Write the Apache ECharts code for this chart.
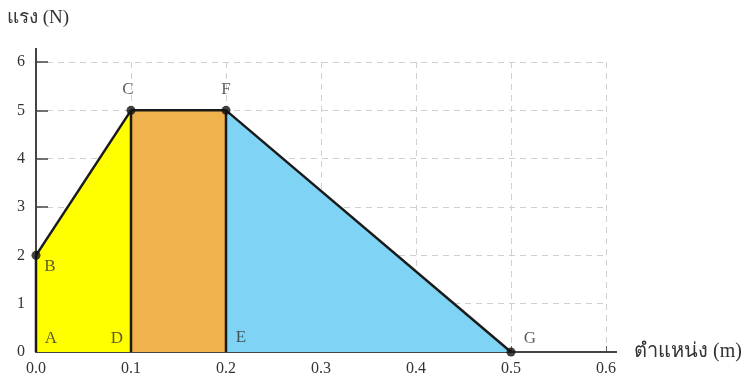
<!DOCTYPE html>
<html>
<head>
<meta charset="utf-8">
<script src="https://cdn.jsdelivr.net/npm/echarts@6/dist/echarts.min.js"></script>
<style>
  html, body { margin: 0; padding: 0; background: #fff; }
  #chart { width: 754px; height: 385px; }
</style>
</head>
<body>
<div id="chart"></div>
<script>
// จุดบนกราฟ (ตำแหน่ง m, แรง N)
const pointNames = ['B', 'C', 'F', 'G'];
const pointX = [0.0, 0.1, 0.2, 0.5];
const pointY = [2, 5, 5, 0];

// ช่วงพื้นที่ใต้กราฟ: เหลือง, ส้ม, ฟ้า
const areaX = [[0.0, 0.1], [0.1, 0.2], [0.2, 0.5]];
const areaY = [[2, 5], [5, 5], [5, 0]];
const areaColors = ['#ffff00', '#efb24c', '#7fd4f5'];

// เส้นแนวตั้ง (AB, DC, EF)
const edgeX = [0.0, 0.1, 0.2];
const edgeTop = [2, 5, 5];

// ป้ายตัวอักษร
const letterNames = ['A', 'B', 'C', 'D', 'E', 'F', 'G'];
const letterX = [0.0, 0.0, 0.1, 0.1, 0.2, 0.2, 0.5];
const letterY = [0, 2, 5, 0, 0, 5, 0];
// offset ของป้ายแต่ละตัว (px)
const letterOffset = [[15, -13], [14, 11], [-3, -21], [-14, -13], [15, -14], [0, -21], [19, -13]];

const serif = '"Liberation Serif", "DejaVu Serif", serif';
const chart = echarts.init(document.getElementById('chart'));

const series = [];

// พื้นที่สี
areaX.forEach((xs, i) => {
  series.push({
    type: 'line',
    data: [[xs[0], areaY[i][0]], [xs[1], areaY[i][1]]],
    symbol: 'none',
    lineStyle: { color: '#1a1a1a', width: 2.5 },
    areaStyle: { color: areaColors[i], opacity: 1, origin: 0 },
    z: 3
  });
});

// เส้นแนวตั้ง
edgeX.forEach((x, i) => {
  series.push({
    type: 'line',
    data: [[x, 0], [x, edgeTop[i]]],
    symbol: 'none',
    lineStyle: { color: '#1a1a1a', width: 2.5 },
    z: 4
  });
});

// จุดดำ
series.push({
  type: 'scatter',
  data: pointX.map((x, i) => [x, pointY[i]]),
  symbolSize: 9,
  itemStyle: { color: '#111' },
  z: 6
});

// ป้ายชื่อจุด
series.push({
  type: 'scatter',
  data: letterNames.map((n, i) => ({
    value: [letterX[i], letterY[i]],
    name: n,
    label: { offset: letterOffset[i] }
  })),
  symbolSize: 1,
  itemStyle: { color: 'rgba(0,0,0,0)' },
  label: {
    show: true,
    position: 'inside',
    formatter: p => p.name,
    color: '#333',
    fontFamily: serif,
    fontSize: 17
  },
  z: 7
});

chart.setOption({
  animation: false,
  backgroundColor: '#fff',
  grid: { left: 36, right: 148, top: 62, bottom: 33 },
  xAxis: {
    type: 'value',
    min: 0,
    max: 0.6,
    interval: 0.1,
    name: 'ตำแหน่ง (m)',
    nameLocation: 'end',
    nameGap: 28,
    nameTextStyle: { color: '#333', fontFamily: serif, fontSize: 20 },
    axisLine: {
      show: true,
      lineStyle: { color: '#444', width: 2 },
      symbol: ['none', 'rect'],
      symbolSize: [2, 22],
      symbolOffset: [0, 0]
    },
    axisTick: { show: true, inside: true, length: 6, lineStyle: { color: '#666' } },
    axisLabel: {
      color: '#333',
      fontFamily: serif,
      fontSize: 16,
      margin: 9,
      formatter: v => v.toFixed(1)
    },
    splitLine: { show: true, lineStyle: { color: '#d0d0d0', type: [6, 5], width: 1 } }
  },
  yAxis: {
    type: 'value',
    min: 0,
    max: 6,
    interval: 1,
    name: 'แรง (N)',
    nameLocation: 'end',
    nameGap: 34,
    nameTextStyle: { color: '#333', fontFamily: serif, fontSize: 19, align: 'left', padding: [0, 0, 0, -29] },
    axisLine: {
      show: true,
      lineStyle: { color: '#444', width: 2 },
      symbol: ['none', 'rect'],
      symbolSize: [2, 28],
      symbolOffset: [0, 0]
    },
    axisTick: { show: true, inside: true, length: 12, lineStyle: { color: '#444', width: 1.5 } },
    axisLabel: { color: '#333', fontFamily: serif, fontSize: 16, margin: 11 },
    splitLine: { show: true, lineStyle: { color: '#d0d0d0', type: [6, 5], width: 1 } }
  },
  series: series
});
</script>
</body>
</html>
